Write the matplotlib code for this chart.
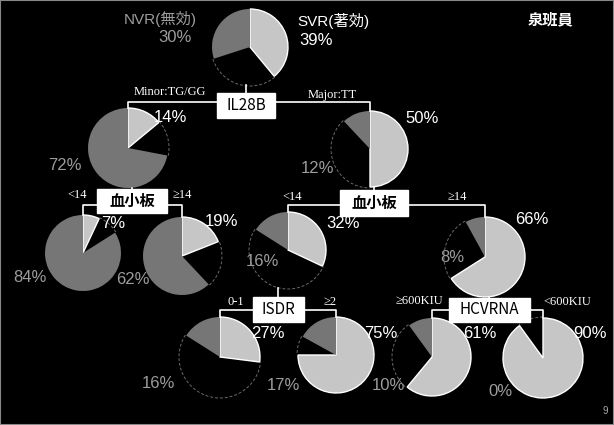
import matplotlib
matplotlib.use("Agg")
import matplotlib.pyplot as plt
from matplotlib.patches import Arc, Rectangle

plt.rcParams['font.family'] = ['Liberation Sans', 'Noto Sans CJK JP', 'DejaVu Sans']

W, H = 614, 425

# outcome shares (%) per node of the tree
NODES = ["all", "minor", "major", "minor_lt14", "minor_ge14",
         "major_lt14", "major_ge14", "isdr_01", "isdr_ge2", "rna_hi", "rna_lo"]
SVR = [39, 14, 50, 7, 19, 32, 66, 27, 75, 61, 90]
NVR = [30, 72, 12, 84, 62, 16, 8, 16, 17, 10, 0]

# splits: parent, factor, left child, right child, left label, right label
SPLITS = [
    ("all", "IL28B", "minor", "major", "Minor:TG/GG", "Major:TT"),
    ("minor", "血小板", "minor_lt14", "minor_ge14", "<14", "≥14"),
    ("major", "血小板", "major_lt14", "major_ge14", "<14", "≥14"),
    ("major_lt14", "ISDR", "isdr_01", "isdr_ge2", "0-1", "≥2"),
    ("major_ge14", "HCVRNA", "rna_hi", "rna_lo", "≥600KIU", "<600KIU"),
]

# layout (pixels from top-left)
CENTERS = [(250, 47), (128, 148), (370, 149), (83, 253), (182, 256),
           (288, 250), (485, 257), (220, 357), (336, 355), (432, 357), (543, 358)]
RADII = [38, 40, 38, 38, 39, 38, 40, 40, 38, 39, 40]
SVR_TXT = [None, (170, 117), (422, 118), (113, 223), (222, 221), (343, 223),
           (532, 219), (268, 333), (381, 333), (480, 333), (590, 333)]
NVR_TXT = [None, (65, 165), (317, 168), (30, 278), (133, 280), (262, 262),
           (452, 258), (158, 383), (283, 385), (388, 385), (500, 392)]
BOXES = {"IL28B": [(246, 105, 58, 25)],
         "血小板": [(132, 201, 70, 24), (374, 203, 68, 26)],
         "ISDR": [(278, 309, 51, 25)],
         "HCVRNA": [(489, 310, 81, 24)]}
BAR_Y = [102, 205, 205, 310, 310]
LBL_POS = [((170, 92), (332, 95)), ((77, 195), (182, 195)), ((292, 197), (457, 197)),
           ((236, 302), (330, 302)), ((419, 301), (567, 302))]

LIGHT = "#c6c6c6"
DARK = "#767676"
GREYTXT = "#9c9c9c"

fig = plt.figure(figsize=(W / 100, H / 100), dpi=100, facecolor="black")
ax = fig.add_axes([0, 0, 1, 1])
ax.set_facecolor("black")


def fy(y):
    return H - y


for i, name in enumerate(NODES):
    cx, cy = CENTERS[i]
    r = RADII[i]
    rest = 100 - SVR[i] - NVR[i]
    wedges, _ = ax.pie([SVR[i], rest, NVR[i]], colors=[LIGHT, "none", DARK],
                       startangle=90, counterclock=False, radius=r,
                       center=(cx, fy(cy)), frame=True)
    wedges[0].set_edgecolor("white")
    wedges[0].set_linewidth(1.0)
    wedges[1].set_edgecolor("none")
    wedges[2].set_edgecolor("none")
    w = wedges[1]
    if rest > 0:
        ax.add_patch(Arc((cx, fy(cy)), 2 * r + 2, 2 * r + 2, theta1=w.theta1, theta2=w.theta2,
                         color="#6a6a6a", lw=0.7, ls=(0, (3, 2))))
    if SVR_TXT[i]:
        ax.text(SVR_TXT[i][0], fy(SVR_TXT[i][1]), f"{SVR[i]}%", color="white",
                fontsize=12, ha="center", va="center")
        ax.text(NVR_TXT[i][0], fy(NVR_TXT[i][1]), f"{NVR[i]}%", color=GREYTXT,
                fontsize=12, ha="center", va="center")

# header labels of the root
ax.text(160, fy(19), "NVR(無効)", color=GREYTXT, fontsize=11, ha="center", va="center")
ax.text(175, fy(37), f"{NVR[0]}%", color=GREYTXT, fontsize=12, ha="center", va="center")
ax.text(333, fy(21), "SVR(著効)", color="white", fontsize=11, ha="center", va="center")
ax.text(316, fy(40), f"{SVR[0]}%", color="white", fontsize=12, ha="center", va="center")
ax.text(550, fy(20), "泉班員", color="white", fontsize=11, ha="center", va="center",
        fontweight="bold")
ax.text(605, fy(411), "9", color="#aaaaaa", fontsize=7, ha="center", va="center")

# tree lines, boxes and split labels
box_used = {}
for k, (parent, factor, left, right, l_lbl, r_lbl) in enumerate(SPLITS):
    pi = NODES.index(parent)
    li = NODES.index(left)
    ri = NODES.index(right)
    j = box_used.get(factor, 0)
    box_used[factor] = j + 1
    bx, by, bw, bh = BOXES[factor][j]
    yb = BAR_Y[k]
    px, py = CENTERS[pi]
    ax.plot([bx, bx], [fy(py + RADII[pi]), fy(by - bh / 2)], color="white", lw=1.2)
    lx, ly = CENTERS[li]
    rx, ry = CENTERS[ri]
    ax.plot([lx, lx, rx, rx], [fy(ly - RADII[li]), fy(yb), fy(yb), fy(ry - RADII[ri])],
            color="white", lw=1.2)
    ax.add_patch(Rectangle((bx - bw / 2, fy(by + bh / 2)), bw, bh, facecolor="white",
                           edgecolor="white", zorder=5))
    bold = "bold" if factor == "血小板" else "normal"
    ax.text(bx, fy(by), factor, color="black", fontsize=11, ha="center", va="center",
            zorder=6, fontweight=bold, family=['Liberation Sans Narrow', 'Noto Sans CJK JP', 'DejaVu Sans'])
    (l1, l2), (r1, r2) = LBL_POS[k]
    ax.text(l1, fy(l2), l_lbl, color="white", fontsize=9, ha="center", va="center",
            family=['Liberation Serif', 'DejaVu Serif'])
    ax.text(r1, fy(r2), r_lbl, color="white", fontsize=9, ha="center", va="center",
            family=['Liberation Serif', 'DejaVu Serif'])

ax.set_xlim(0, W)
ax.set_ylim(0, H)
ax.set_aspect("auto")
ax.set_xticks([])
ax.set_yticks([])
for s in ax.spines.values():
    s.set_color("#888888")
    s.set_linewidth(1.5)

fig.savefig("out.png", dpi=100, facecolor="black")
